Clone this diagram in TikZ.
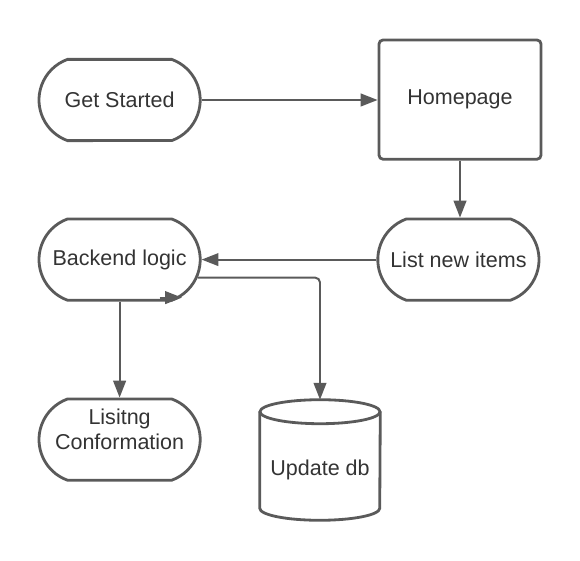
\documentclass[tikz,border=0pt]{standalone}
\usepackage{fontspec}
\setmainfont{Liberation Sans}
\usetikzlibrary{shapes.misc,arrows.meta}
\definecolor{linegray}{HTML}{5A5A5A}
\definecolor{textgray}{HTML}{333333}

\begin{document}
\begin{tikzpicture}[
  font=\fontsize{15.3}{17.8}\selectfont,
  text=textgray,
  outline/.style={draw=linegray,line width=2pt},
  pill/.style={outline,rounded rectangle,rounded rectangle arc length=140,
    minimum width=4.03cm,minimum height=2.03cm,inner sep=0pt},
  pagebox/.style={outline,rounded corners=0.1cm,minimum width=4.05cm,minimum height=2.98cm},
  conn/.style={draw=linegray,line width=1.4pt,-{Triangle[length=12pt,width=9pt]}}
]
\useasboundingbox (0,0) rectangle (14.5,14);
% Draw nodes
\node[pill] (start) at (2.99,11.5) {Get Started};
\node[pagebox] (home) at (11.5,11.51) {Homepage};
\node[pill] (items) at (11.46,7.51) {List new items};
\node[pill] (logic) at (2.99,7.51) {Backend logic};
\node[pill,label={[align=center,yshift=0.25cm]center:Lisitng\\Conformation}] (confirm) at (2.99,3.01) {};
% Draw database
\node[minimum width=3cm,minimum height=3cm,inner sep=0pt] (db) at (8,2.5) {};
\node (dbtext) at (8,2.25) {Update db};
\draw[outline] ([yshift=-0.3cm]db.north) ellipse (1.5cm and 0.3cm);
\draw[outline] ([yshift=-0.3cm]db.north west) -- ([yshift=0.3cm]db.south west)
  arc[start angle=180,end angle=360,x radius=1.5cm,y radius=0.3cm] -- ([yshift=-0.3cm]db.north east);
% Draw arrows
\draw[conn] (start.east) -- (start.east -| home.west);
\draw[conn] (home.south) -- (home.south |- items.north);
\draw[conn] (items.west) -- (items.west -| logic.east);
\draw[conn] (logic.south) -- (confirm.north);
\draw[conn,rounded corners=0.12cm] (logic.-13) -| (db.north);
\draw[conn] ([xshift=1cm,yshift=0.1cm]logic.south) -- ([xshift=1.56cm,yshift=0.1cm]logic.south);
\end{tikzpicture}
\end{document}
